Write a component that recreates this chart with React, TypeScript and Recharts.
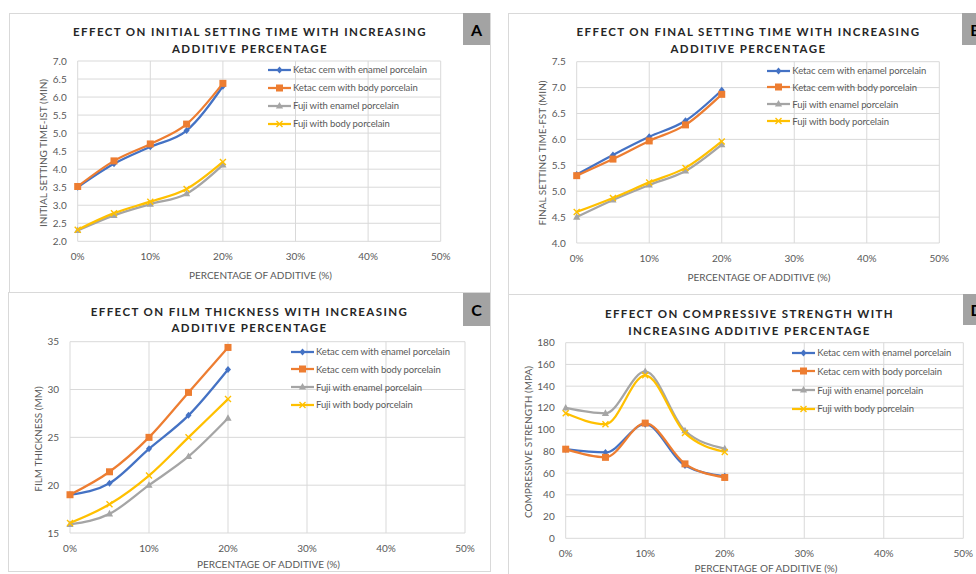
import React from "react";
import { CartesianGrid, Legend, Line, LineChart, XAxis, YAxis } from "recharts";

const FONT = "Lato, 'Liberation Sans', sans-serif";
const GRID = "#d9d9d9";
const TEXT = "#595959";

// shared x categories (percentage of additive)
const ADDITIVE = [0, 5, 10, 15, 20];
const X_TICKS = [0, 10, 20, 30, 40, 50];

const SERIES_NAMES = [
  "Ketac cem with enamel porcelain",
  "Ketac cem with body porcelain",
  "Fuji with enamel porcelain",
  "Fuji with body porcelain",
];

// A - initial setting time (min)
const IST_KETAC_ENAMEL = [3.5, 4.15, 4.62, 5.07, 6.3];
const IST_KETAC_BODY = [3.52, 4.23, 4.7, 5.25, 6.38];
const IST_FUJI_ENAMEL = [2.3, 2.72, 3.03, 3.32, 4.12];
const IST_FUJI_BODY = [2.32, 2.78, 3.1, 3.45, 4.2];
const IST_TICKS = [2, 2.5, 3, 3.5, 4, 4.5, 5, 5.5, 6, 6.5, 7];

// B - final setting time (min)
const FST_KETAC_ENAMEL = [5.32, 5.7, 6.05, 6.36, 6.95];
const FST_KETAC_BODY = [5.3, 5.62, 5.97, 6.28, 6.87];
const FST_FUJI_ENAMEL = [4.5, 4.83, 5.12, 5.39, 5.9];
const FST_FUJI_BODY = [4.6, 4.87, 5.17, 5.45, 5.96];
const FST_TICKS = [4, 4.5, 5, 5.5, 6, 6.5, 7, 7.5];

// C - film thickness
const FILM_KETAC_ENAMEL = [19, 20.2, 23.8, 27.3, 32.1];
const FILM_KETAC_BODY = [19, 21.4, 25, 29.7, 34.4];
const FILM_FUJI_ENAMEL = [15.9, 17, 20, 23, 27];
const FILM_FUJI_BODY = [16.05, 18, 21, 25, 29];
const FILM_TICKS = [15, 20, 25, 30, 35];

// D - compressive strength (MPa)
const CS_KETAC_ENAMEL = [82, 79, 105, 67, 57];
const CS_KETAC_BODY = [82, 74.5, 106, 68.5, 56];
const CS_FUJI_ENAMEL = [120, 115, 153.5, 99, 82.5];
const CS_FUJI_BODY = [115, 105, 150, 97, 79.5];
const CS_TICKS = [0, 20, 40, 60, 80, 100, 120, 140, 160, 180];

type Shape = "diamond" | "square" | "triangle" | "cross";

const SERIES: { key: string; color: string; shape: Shape }[] = [
  { key: "ketacEnamel", color: "#4472c4", shape: "diamond" },
  { key: "ketacBody", color: "#ed7d31", shape: "square" },
  { key: "fujiEnamel", color: "#a5a5a5", shape: "triangle" },
  { key: "fujiBody", color: "#ffc000", shape: "cross" },
];

function buildRows(values: number[][]) {
  return ADDITIVE.map((x, i) => {
    const row: Record<string, number> = { x };
    SERIES.forEach((s, j) => {
      row[s.key] = values[j][i];
    });
    return row;
  });
}

function Marker({ cx, cy, shape, color }: { cx: number; cy: number; shape: Shape; color: string }) {
  if (cx == null || cy == null) return null;
  switch (shape) {
    case "diamond":
      return <path d={`M${cx},${cy - 3.5}L${cx + 3},${cy}L${cx},${cy + 3.5}L${cx - 3},${cy}Z`} fill={color} />;
    case "square":
      return <rect x={cx - 3.5} y={cy - 3.5} width={7} height={7} fill={color} />;
    case "triangle":
      return <path d={`M${cx},${cy - 4}L${cx + 3.6},${cy + 2.6}L${cx - 3.6},${cy + 2.6}Z`} fill={color} />;
    default:
      return (
        <path
          d={`M${cx - 3},${cy - 3}L${cx + 3},${cy + 3}M${cx + 3},${cy - 3}L${cx - 3},${cy + 3}`}
          stroke={color}
          strokeWidth={1.4}
          fill="none"
        />
      );
  }
}

// legend rows keep the series order (recharts hands them over reversed here)
function makeLegend(rowH: number) {
  return (props: any) => {
    const items = [...(props.payload ?? [])].sort(
      (a: any, b: any) =>
        SERIES.findIndex((s) => s.key === a.dataKey) - SERIES.findIndex((s) => s.key === b.dataKey)
    );
    return (
      <div style={{ fontFamily: FONT, fontSize: 9.5, letterSpacing: -0.1, color: TEXT }}>
        {items.map((item: any) => {
          const s = SERIES.find((d) => d.key === item.dataKey) ?? SERIES[0];
          return (
            <div
              key={s.key}
              style={{ display: "flex", alignItems: "center", height: rowH, whiteSpace: "nowrap" }}
            >
              <svg width={23} height={10} style={{ display: "block" }}>
                <line x1={0} y1={5} x2={23} y2={5} stroke={s.color} strokeWidth={2.25} />
                <Marker cx={11.5} cy={5} shape={s.shape} color={s.color} />
              </svg>
              <span style={{ marginLeft: 2 }}>{item.value}</span>
            </div>
          );
        })}
      </div>
    );
  };
}

type PanelProps = {
  title: string[];
  yTitle: string;
  xTitle: string;
  data: Record<string, number>[];
  yDomain: [number, number];
  yTicks: number[];
  yFmt: (v: number) => string;
  box: { left: number; top: number; width: number; height: number };
  plot: { left: number; right: number; top: number; bottom: number };
  titleTop: number;
  titleLine: number;
  yTitlePos: [number, number];
  xTitlePos: [number, number];
  legend: { left: number; top: number; rowH: number };
};

function Panel(p: PanelProps) {
  const { box, plot } = p;
  return (
    <div
      style={{
        position: "absolute",
        left: box.left,
        top: box.top,
        width: box.width,
        height: box.height,
        border: `1px solid ${GRID}`,
        boxSizing: "border-box",
      }}
    >
      <div style={{ position: "absolute", left: -1, top: -1 }}>
        <LineChart
          width={box.width}
          height={box.height}
          data={p.data}
          margin={{ top: plot.top, right: plot.right, bottom: plot.bottom - 30, left: 0 }}
        >
          <CartesianGrid stroke={GRID} strokeWidth={1} />
          <XAxis
            dataKey="x"
            type="number"
            domain={[0, 50]}
            ticks={X_TICKS}
            interval={0}
            height={30}
            axisLine={false}
            tickLine={false}
            tickMargin={6}
            tickFormatter={(v) => `${v}%`}
            tick={{ fill: TEXT, fontSize: 10, fontFamily: FONT }}
          />
          <YAxis
            type="number"
            domain={p.yDomain}
            ticks={p.yTicks}
            interval={0}
            width={plot.left}
            axisLine={false}
            tickLine={false}
            tickMargin={5}
            tickFormatter={p.yFmt}
            tick={{ fill: TEXT, fontSize: 10, fontFamily: FONT }}
          />
          <Legend
            layout="vertical"
            align="center"
            verticalAlign="middle"
            wrapperStyle={{ left: p.legend.left, top: p.legend.top, width: 200 }}
            content={makeLegend(p.legend.rowH)}
          />
          {SERIES.map((s, i) => (
            <Line
              key={s.key}
              dataKey={s.key}
              name={SERIES_NAMES[i]}
              type="monotone"
              stroke={s.color}
              strokeWidth={2.25}
              isAnimationActive={false}
              dot={(d: any) => (
                <Marker key={`${s.key}-${d.index}`} cx={d.cx} cy={d.cy} shape={s.shape} color={s.color} />
              )}
              activeDot={false}
            />
          ))}
        </LineChart>
      </div>
      <div
        style={{
          position: "absolute",
          left: -1,
          top: p.titleTop,
          width: box.width,
          textAlign: "center",
          fontFamily: FONT,
          fontWeight: 700,
          fontSize: 11.5,
          letterSpacing: 1.4,
          lineHeight: `${p.titleLine}px`,
          color: "#262626",
          whiteSpace: "nowrap",
        }}
      >
        {p.title.map((t) => (
          <div key={t}>{t}</div>
        ))}
      </div>
      <div
        style={{
          position: "absolute",
          left: p.yTitlePos[0],
          top: p.yTitlePos[1],
          transform: "translate(-50%, -50%) rotate(-90deg)",
          fontFamily: FONT,
          fontSize: 10,
          color: TEXT,
          whiteSpace: "nowrap",
        }}
      >
        {p.yTitle}
      </div>
      <div
        style={{
          position: "absolute",
          left: p.xTitlePos[0],
          top: p.xTitlePos[1],
          transform: "translate(-50%, -50%)",
          fontFamily: FONT,
          fontSize: 10,
          color: TEXT,
          whiteSpace: "nowrap",
        }}
      >
        {p.xTitle}
      </div>
    </div>
  );
}

function LetterBox({ letter, left, top, width, height }: { letter: string; left: number; top: number; width: number; height: number }) {
  return (
    <div
      style={{
        position: "absolute",
        left,
        top,
        width,
        height,
        background: "#a3a3a3",
        color: "#000",
        fontFamily: FONT,
        fontWeight: 700,
        fontSize: 16,
        display: "flex",
        alignItems: "center",
        justifyContent: "center",
      }}
    >
      {letter}
    </div>
  );
}

const fmt1 = (v: number) => v.toFixed(1);
const fmt0 = (v: number) => String(v);

export default function App() {
  return (
    <div
      style={{
        position: "absolute",
        left: 0,
        top: 0,
        width: 976,
        height: 574,
        overflow: "hidden",
        background: "#fff",
      }}
    >
      <Panel
        title={["EFFECT ON INITIAL SETTING TIME WITH INCREASING", "ADDITIVE PERCENTAGE"]}
        yTitle="INITIAL SETTING TIME-IST (MIN)"
        xTitle="PERCENTAGE OF ADDITIVE (%)"
        data={buildRows([IST_KETAC_ENAMEL, IST_KETAC_BODY, IST_FUJI_ENAMEL, IST_FUJI_BODY])}
        yDomain={[2, 7]}
        yTicks={IST_TICKS}
        yFmt={fmt1}
        box={{ left: 9, top: 13, width: 482, height: 280 }}
        plot={{ left: 68.7, right: 50.3, top: 48, bottom: 51.7 }}
        titleTop={8.5}
        titleLine={17}
        yTitlePos={[33, 138.5]}
        xTitlePos={[250.5, 261]}
        legend={{ left: 259, top: 48, rowH: 17.9 }}
      />
      <Panel
        title={["EFFECT ON FINAL SETTING TIME WITH INCREASING", "ADDITIVE PERCENTAGE"]}
        yTitle="FINAL SETTING TIME-FST (MIN)"
        xTitle="PERCENTAGE OF ADDITIVE (%)"
        data={buildRows([FST_KETAC_ENAMEL, FST_KETAC_BODY, FST_FUJI_ENAMEL, FST_FUJI_BODY])}
        yDomain={[4, 7.5]}
        yTicks={FST_TICKS}
        yFmt={fmt1}
        box={{ left: 508, top: 13, width: 481, height: 282 }}
        plot={{ left: 68.7, right: 49.7, top: 48.7, bottom: 52 }}
        titleTop={8.5}
        titleLine={17}
        yTitlePos={[33, 139]}
        xTitlePos={[250, 262.7]}
        legend={{ left: 259.3, top: 49.3, rowH: 16.8 }}
      />
      <Panel
        title={["EFFECT ON FILM THICKNESS WITH INCREASING", "ADDITIVE PERCENTAGE"]}
        yTitle="FILM THICKNESS (MM)"
        xTitle="PERCENTAGE OF ADDITIVE (%)"
        data={buildRows([FILM_KETAC_ENAMEL, FILM_KETAC_BODY, FILM_FUJI_ENAMEL, FILM_FUJI_BODY])}
        yDomain={[15, 35]}
        yTicks={FILM_TICKS}
        yFmt={fmt0}
        box={{ left: 8, top: 292, width: 483, height: 280 }}
        plot={{ left: 62, right: 26, top: 49.7, bottom: 39 }}
        titleTop={10.6}
        titleLine={16.7}
        yTitlePos={[29.3, 145.5]}
        xTitlePos={[259.5, 271.3]}
        legend={{ left: 283, top: 50.8, rowH: 17.7 }}
      />
      <Panel
        title={["EFFECT ON COMPRESSIVE STRENGTH WITH", "INCREASING ADDITIVE PERCENTAGE"]}
        yTitle="COMPRESSIVE STRENGTH (MPA)"
        xTitle="PERCENTAGE OF ADDITIVE (%)"
        data={buildRows([CS_KETAC_ENAMEL, CS_KETAC_BODY, CS_FUJI_ENAMEL, CS_FUJI_BODY])}
        yDomain={[0, 180]}
        yTicks={CS_TICKS}
        yFmt={fmt0}
        box={{ left: 508, top: 294, width: 483, height: 290 }}
        plot={{ left: 57.7, right: 27.7, top: 48.7, bottom: 45.7 }}
        titleTop={9.5}
        titleLine={17}
        yTitlePos={[19.3, 147]}
        xTitlePos={[257, 272.5]}
        legend={{ left: 284.3, top: 49.3, rowH: 18.7 }}
      />
      <LetterBox letter="A" left={463} top={13} width={27} height={32} />
      <LetterBox letter="B" left={962} top={13} width={27} height={32} />
      <LetterBox letter="C" left={463} top={293} width={27} height={33} />
      <LetterBox letter="D" left={963} top={294} width={27} height={31} />
    </div>
  );
}
